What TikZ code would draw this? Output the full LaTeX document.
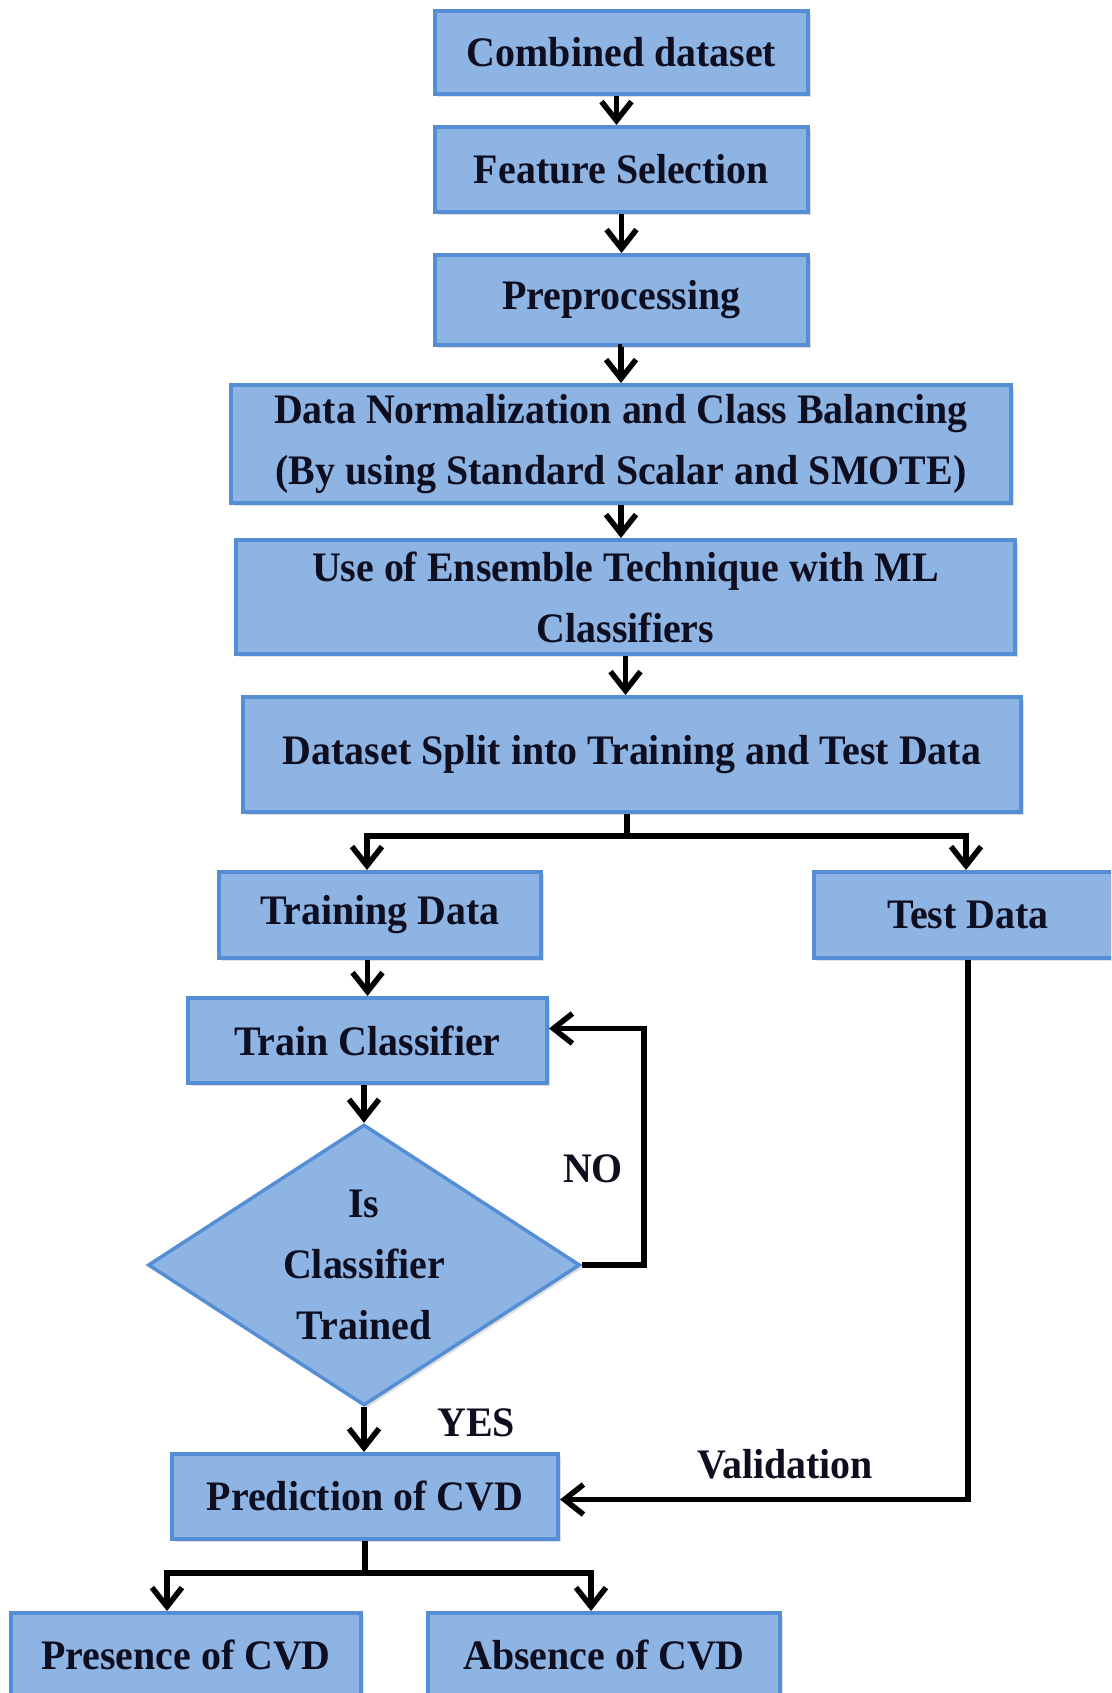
\documentclass[tikz,border=0pt]{standalone}
\usepackage{fontspec}
\setmainfont{Liberation Serif}[FakeStretch=0.95]
\usepackage{xcolor}
\usepackage{tikz}
\usetikzlibrary{arrows.meta,positioning,calc,shapes.geometric,shadows}
\definecolor{cFill} {RGB}{142,180,227}
\definecolor{cEdge} {RGB}{85,142,213}
\definecolor{cInk}  {RGB}{14,14,32}
\tikzset{
  >={Straight Barb[length=19pt,width=30pt]},
  stage/.style={draw=cEdge,line width=4pt,fill=cFill,inner sep=0pt,align=center,
                text=cInk,font=\fontsize{42}{61}\selectfont\bfseries,
                drop shadow={opacity=0.25,shadow xshift=3pt,shadow yshift=-3pt}},
  decision/.style={stage,diamond,aspect=1.54,line width=3.5pt},
  flow/.style={->,line width=5.5pt,black},
  lbl/.style={font=\fontsize{42}{48}\selectfont\bfseries,text=cInk},
}
\begin{document}
\begin{tikzpicture}[x=1pt,y=-1pt]
  \useasboundingbox (0,0) rectangle (1111,1693);
  \clip (0,0) rectangle (1111,1693);
  % main chain
  \node[stage,minimum width=373pt,minimum height=83pt] (comb) at (621.5,52.5) {Combined dataset};
  \node[stage,minimum width=373pt,minimum height=85pt] (feat) at (621.5,169.5) {Feature Selection};
  \node[stage,minimum width=373pt,minimum height=90pt] (prep) at (621.5,300) {Preprocessing};
  \node[stage,minimum width=780pt,minimum height=118pt] (norm) at (621,444)
    {Data Normalization and Class Balancing\\(By using Standard Scalar and SMOTE)};
  \node[stage,minimum width=779pt,minimum height=114pt] (ens) at (625.5,597)
    {Use of Ensemble Technique with ML\\Classifiers};
  \node[stage,minimum width=778pt,minimum height=115pt] (split) at (632,754.5)
    {Dataset Split into Training and Test Data};
  % branches
  \node[stage,minimum width=322pt,minimum height=86pt] (train) at (380,915) {Training Data};
  \node[stage,minimum width=308pt,minimum height=86pt] (test) at (968,915) {Test Data};
  \node[stage,minimum width=359pt,minimum height=85pt] (tclf) at (367.5,1040.5) {Train Classifier};
  \node[decision,minimum width=432pt,minimum height=281pt] (dia) at (364,1265)
    {Is\\Classifier\\Trained};
  \node[stage,minimum width=386pt,minimum height=85pt] (pred) at (365,1496.5) {Prediction of CVD};
  \node[stage,minimum width=350pt,minimum height=85pt] (pres) at (186,1655.5) {Presence of CVD};
  \node[stage,minimum width=352pt,minimum height=85pt] (abs) at (604,1655.5) {Absence of CVD};

  \draw[flow] ([xshift=-5pt]comb.south) -- ([xshift=-5pt]feat.north);
  \draw[flow] (feat.south) -- (prep.north);
  \draw[flow] (prep.south) -- (norm.south |- prep.south) -- (norm.north);
  \draw[flow] (norm.south) -- (ens.north -| norm.south);
  \draw[flow] (ens.south) -- (split.north -| ens.south);

  \coordinate (sb) at ([xshift=-5pt,yshift=-22pt]split.south);
  \draw[flow] ([xshift=-5pt]split.south) -- (sb) -| ([xshift=-13pt]train.north);
  \draw[flow] (sb) -| ([xshift=-2pt]test.north);
  \draw[flow] (tclf.north |- train.south) -- (tclf.north);
  \draw[flow] (dia.north |- tclf.south) -- (dia.north);
  \draw[flow] (dia.east) -- ++(62,0) |- ([yshift=12pt]tclf.east);
  \draw[flow] (dia.south) -- (dia.south |- pred.north);
  \draw[flow] (test.south) |- ([yshift=-3pt]pred.east);

  \coordinate (pb) at ([yshift=-32pt]pred.south);
  \draw[flow] (pred.south) -- (pb) -| ([xshift=-19pt]pres.north);
  \draw[flow] (pb) -| ([xshift=-13pt]abs.north);

  \node[lbl] (no) at (593,1169) {NO};
  \node[lbl] (yes) at (476,1423) {YES};
  \node[lbl] (val) at (785,1464) {Validation};
\end{tikzpicture}
\end{document}
